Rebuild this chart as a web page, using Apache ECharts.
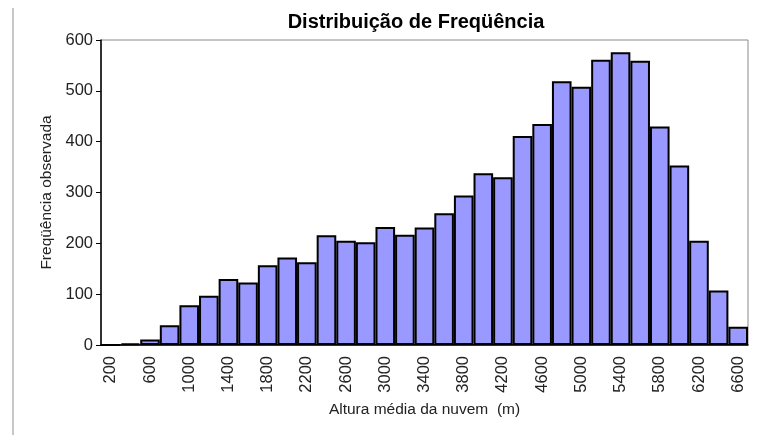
<!DOCTYPE html>
<html>
<head>
<meta charset="utf-8">
<script src="https://cdn.jsdelivr.net/npm/echarts@6/dist/echarts.min.js"></script>
<style>
	html, body { margin: 0; padding: 0; background: #fff; }
	#chart { width: 758px; height: 439px; }
</style>
</head>
<body>
<div id="chart"></div>
<script>
	// classes de altura (m)
	var alturas = ['200', '400', '600', '800', '1000', '1200', '1400', '1600', '1800', '2000', '2200',
		'2400', '2600', '2800', '3000', '3200', '3400', '3600', '3800', '4000', '4200', '4400',
		'4600', '4800', '5000', '5200', '5400', '5600', '5800', '6000', '6200', '6400', '6600'];
	// frequência observada
	var frequencias = [0, 3, 11, 39, 78, 97, 130, 123, 157, 172, 163,
		216, 205, 202, 232, 217, 231, 259, 294, 338, 330, 411,
		435, 519, 508, 561, 576, 559, 430, 353, 205, 107, 36];

	var myChart = echarts.init(document.getElementById('chart'));

	var option = {
		animation: false,
		textStyle: {
			fontFamily: 'Liberation Sans, Arial, sans-serif'
		},
		title: {
			text: 'Distribuição de Freqüência',
			left: 411,
			textAlign: 'center',
			top: 7,
			textStyle: {
				fontSize: 20,
				fontWeight: 'bold',
				color: '#000'
			}
		},
		grid: {
			left: 101,
			right: 10,
			top: 40,
			bottom: 94,
			show: true,
			borderColor: '#8a8a8a',
			borderWidth: 1
		},
		graphic: [{
			type: 'line',
			shape: { x1: 13, y1: 8, x2: 13, y2: 435 },
			style: { stroke: '#b5b5b5', lineWidth: 1.5 }
		}],
		xAxis: {
			type: 'category',
			data: alturas,
			name: 'Altura média da nuvem  (m)',
			nameLocation: 'middle',
			nameGap: 57,
			nameTextStyle: {
				fontSize: 15.5,
				color: '#222'
			},
			axisLine: {
				lineStyle: { color: '#000', width: 1.5 }
			},
			axisTick: { show: false },
			axisLabel: {
				interval: 1,
				rotate: 90,
				fontSize: 16.5,
				color: '#222',
				margin: 11
			}
		},
		yAxis: {
			type: 'value',
			min: 0,
			max: 600,
			interval: 100,
			name: 'Freqüência observada',
			nameLocation: 'middle',
			nameGap: 45,
			nameTextStyle: {
				fontSize: 15.5,
				color: '#222'
			},
			axisLine: {
				show: true,
				lineStyle: { color: '#000', width: 1.5 }
			},
			axisTick: {
				show: true,
				length: 5,
				lineStyle: { color: '#000' }
			},
			splitLine: { show: false },
			axisLabel: {
				fontSize: 16.5,
				color: '#222',
				margin: 8
			}
		},
		series: [{
			type: 'bar',
			data: frequencias,
			barCategoryGap: '0%',
			itemStyle: {
				color: '#9999ff',
				borderColor: '#000',
				borderWidth: 2
			}
		}]
	};

	myChart.setOption(option);
</script>
</body>
</html>
